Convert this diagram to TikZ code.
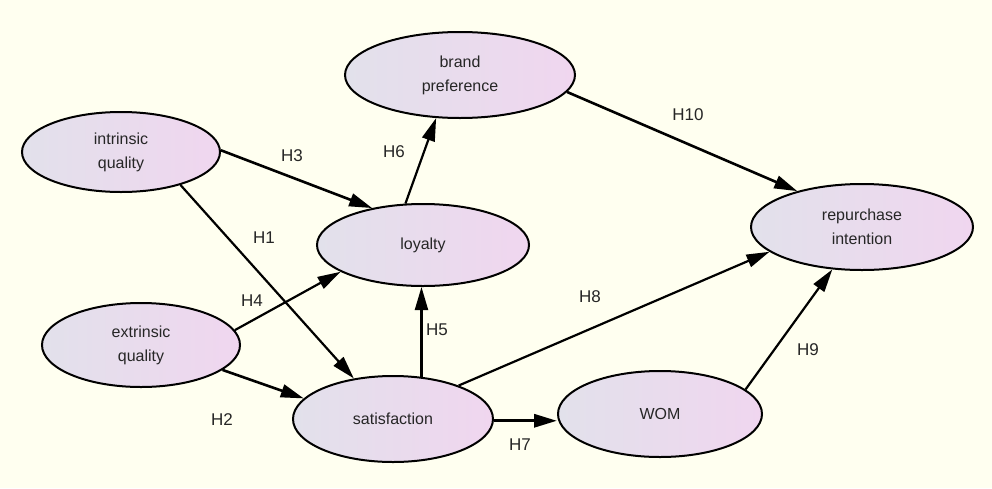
\documentclass[tikz,border=0pt]{standalone}
\usepackage{fontspec}
\setmainfont{Liberation Sans}
\usetikzlibrary{shapes.geometric,arrows.meta}
\definecolor{bgc}{HTML}{FFFFF0}
\definecolor{lvl}{HTML}{E2E1EB}
\definecolor{lvr}{HTML}{F0D6EF}
\definecolor{txt}{HTML}{262626}
\tikzset{
  lv/.style={ellipse, draw=black, line width=2pt, left color=lvl, right color=lvr,
    inner sep=0pt, align=center, text=txt, font=\fontsize{16}{24}\selectfont},
  hl/.style={inner sep=0pt, text=txt, font=\fontsize{17}{20}\selectfont},
  path/.style={draw=black, line width=2.2pt, -{Triangle[length=23pt,width=13pt]}},
}
\begin{document}
\begin{tikzpicture}[x=1pt,y=-1pt]
\fill[bgc] (0,0) rectangle (992,488);
\useasboundingbox (0,0) rectangle (992,488);
\node[lv, minimum width=230pt, minimum height=86pt] (brand) at (460,75) {brand\\preference};
\node[lv, minimum width=198pt, minimum height=80pt] (intr) at (121,152) {intrinsic\\quality};
\node[lv, minimum width=212pt, minimum height=82pt] (loy) at (423,245) {loyalty};
\node[lv, minimum width=222pt, minimum height=86pt] (rep) at (862,227) {repurchase\\intention};
\node[lv, minimum width=198pt, minimum height=84pt] (ext) at (141,345) {extrinsic\\quality};
\node[lv, minimum width=200pt, minimum height=86pt] (sat) at (393,419) {satisfaction};
\node[lv, minimum width=204pt, minimum height=86pt] (wom) at (660,414) {WOM};

\draw[path, line width=2.6pt] (intr.1) -- (loy.144);
\draw[path] (intr.-29) -- (sat.134);
\draw[path] (ext.9) -- (loy.198);
\draw[path, line width=2.6pt] (ext.-17) -- (sat.167);
\draw[path] (sat.56) -- (sat.56 |- loy.south);
\draw[path] (loy.113) -- (brand.241);
\draw[path, line width=3.2pt] (sat.-1) -- (wom.west |- sat.-1);
\draw[path] (sat.27) -- (rep.195);
\draw[path] (wom.16) -- (rep.235);
\draw[path, line width=2.6pt] (brand.-9) -- (rep.151);

\node[hl] (h1) at (264,238) {H1};
\node[hl] (h2) at (222,420) {H2};
\node[hl] (h3) at (292,156) {H3};
\node[hl] (h4) at (252,301) {H4};
\node[hl] (h5) at (437,330) {H5};
\node[hl] (h6) at (394,152) {H6};
\node[hl] (h7) at (520,445) {H7};
\node[hl] (h8) at (590,297) {H8};
\node[hl] (h9) at (808,350) {H9};
\node[hl] (h10) at (688,115) {H10};
\end{tikzpicture}
\end{document}
